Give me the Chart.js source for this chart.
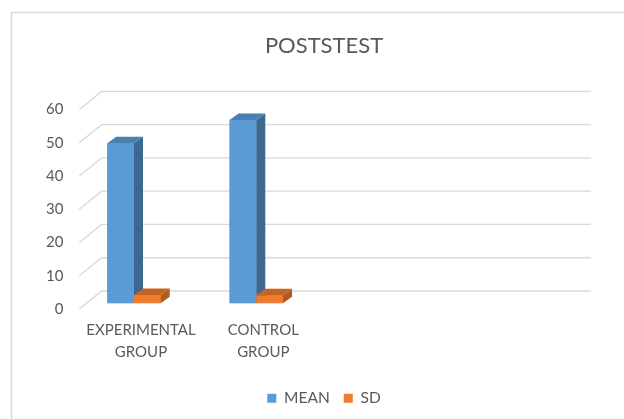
<!DOCTYPE html>
<html>
<head>
<meta charset="utf-8">
<script src="https://cdn.jsdelivr.net/npm/chart.js@4/dist/chart.umd.min.js"></script>
<style>
  html, body { margin: 0; padding: 0; background: #ffffff; }
  canvas { display: block; }
</style>
</head>
<body>
<canvas id="chart" width="624" height="419"></canvas>
<script>
// Category labels (two-line) and series values
const categories = [['EXPERIMENTAL', 'GROUP'], ['CONTROL', 'GROUP'], '', ''];
const meanValues = [48.1, 55.1, null, null];
const sdValues = [2.5, 2.4, null, null];
const yTicks = [0, 10, 20, 30, 40, 50, 60];

const TEXT = '#595959';
const GRID = '#d9d9d9';
const FONT = 'Lato';
const BOTTOM_PAD = 3;
const BAR_BASE_Y = 303.3;   // pixel row of the bars' front baseline

// Depth of the column boxes and of the back wall relative to the bars' front plane
const BOX = { dx: 9, dy: -6.5 };
const WALL = { backLeft: 28.85, backRight: 29, backDy: -12.3, frontLeft: 6.45, frontDy: 5.7 };

const depthPlugin = {
  id: 'depth3d',
  beforeDraw(chart) {
    const ctx = chart.ctx;
    ctx.save();
    ctx.fillStyle = '#ffffff';
    ctx.fillRect(0, 0, chart.width, chart.height);
    ctx.strokeStyle = GRID;
    ctx.lineWidth = 1.5;
    ctx.beginPath();
    ctx.moveTo(11.5, chart.height + 5);
    ctx.lineTo(11.5, 12.5);
    ctx.lineTo(chart.width + 5, 12.5);
    ctx.stroke();
    ctx.restore();
  },
  beforeDatasetsDraw(chart) {
    const { ctx, chartArea: a, scales: { y } } = chart;
    ctx.save();
    ctx.strokeStyle = GRID;
    ctx.lineWidth = 1.3;
    y.ticks.forEach(t => {
      const py = y.getPixelForValue(t.value);
      ctx.beginPath();
      ctx.moveTo(a.left + WALL.frontLeft, py + WALL.frontDy);
      ctx.lineTo(a.left + WALL.backLeft, py + WALL.backDy);
      ctx.lineTo(a.right + WALL.backRight, py + WALL.backDy);
      ctx.stroke();
    });
    ctx.restore();
  },
  // Each series is completed (front, side, top) in series order so that
  // later columns sit in front of the side faces of earlier ones.
  afterDatasetsDraw(chart) {
    const ctx = chart.ctx;
    ctx.save();
    chart.data.datasets.forEach((ds, di) => {
      const meta = chart.getDatasetMeta(di);
      meta.data.forEach((el, i) => {
        if (ds.data[i] === null || ds.data[i] === undefined) return;
        const p = el.getProps(['x', 'y', 'base', 'width'], true);
        const l = p.x - p.width / 2, r = p.x + p.width / 2;
        // front face
        ctx.fillStyle = ds.backgroundColor;
        ctx.fillRect(l, p.y, p.width, p.base - p.y);
        // side face
        ctx.fillStyle = ds.sideColor;
        ctx.beginPath();
        ctx.moveTo(r, p.y);
        ctx.lineTo(r + BOX.dx, p.y + BOX.dy);
        ctx.lineTo(r + BOX.dx, p.base + BOX.dy);
        ctx.lineTo(r, p.base);
        ctx.closePath();
        ctx.fill();
        // top face
        ctx.fillStyle = ds.topColor;
        ctx.beginPath();
        ctx.moveTo(l, p.y);
        ctx.lineTo(l + BOX.dx, p.y + BOX.dy);
        ctx.lineTo(r + BOX.dx, p.y + BOX.dy);
        ctx.lineTo(r, p.y);
        ctx.closePath();
        ctx.fill();
      });
    });
    ctx.restore();
  }
};

new Chart(document.getElementById('chart'), {
  type: 'bar',
  data: {
    labels: categories,
    datasets: [
      { label: 'MEAN', data: meanValues, backgroundColor: '#5b9bd5', sideColor: '#3b6792', topColor: '#4a7fb2' },
      { label: 'SD', data: sdValues, backgroundColor: '#ed7d31', sideColor: '#b0581d', topColor: '#c5641f' }
    ]
  },
  options: {
    responsive: false,
    animation: false,
    devicePixelRatio: 1,
    layout: { padding: { left: 24, right: 0, top: 12, bottom: BOTTOM_PAD } },
    datasets: { bar: { barPercentage: 1, categoryPercentage: 0.4367, borderWidth: 0 } },
    plugins: {
      tooltip: { enabled: false },
      title: {
        display: true,
        text: 'POSTSTEST',
        color: TEXT,
        font: { family: FONT, size: 22, weight: 'normal', lineHeight: 1.2 },
        padding: { top: 21, bottom: 44.3 }
      },
      legend: {
        position: 'bottom',
        labels: {
          boxWidth: 9,
          boxHeight: 9,
          padding: 14,
          color: TEXT,
          font: { family: FONT, size: 15.5 }
        }
      }
    },
    scales: {
      x: {
        grid: { display: false, drawTicks: false },
        border: { display: false },
        ticks: {
          color: TEXT,
          font: { family: FONT, size: 15, lineHeight: 1.45 },
          labelOffset: 7,
          padding: 16,
          maxRotation: 0,
          autoSkip: false
        },
        afterFit(s) {
          const lh = s.chart.legend ? s.chart.legend.height : 0;
          s.height = s.chart.height - BAR_BASE_Y - BOTTOM_PAD - lh;
        }
      },
      y: {
        min: 0,
        max: 60,
        grid: { display: false, drawTicks: false },
        border: { display: false },
        ticks: {
          color: TEXT,
          font: { family: FONT, size: 15 },
          padding: 9.5,
          labelOffset: 5.7
        },
        afterBuildTicks(s) { s.ticks = yTicks.map(v => ({ value: v })); },
        afterFit(s) { s.width = 48.85; }
      },
      y2: {
        position: 'right',
        display: true,
        grid: { display: false, drawTicks: false },
        border: { display: false },
        ticks: { display: false },
        afterFit(s) { s.width = 62; }
      }
    }
  },
  plugins: [depthPlugin]
});
</script>
</body>
</html>
